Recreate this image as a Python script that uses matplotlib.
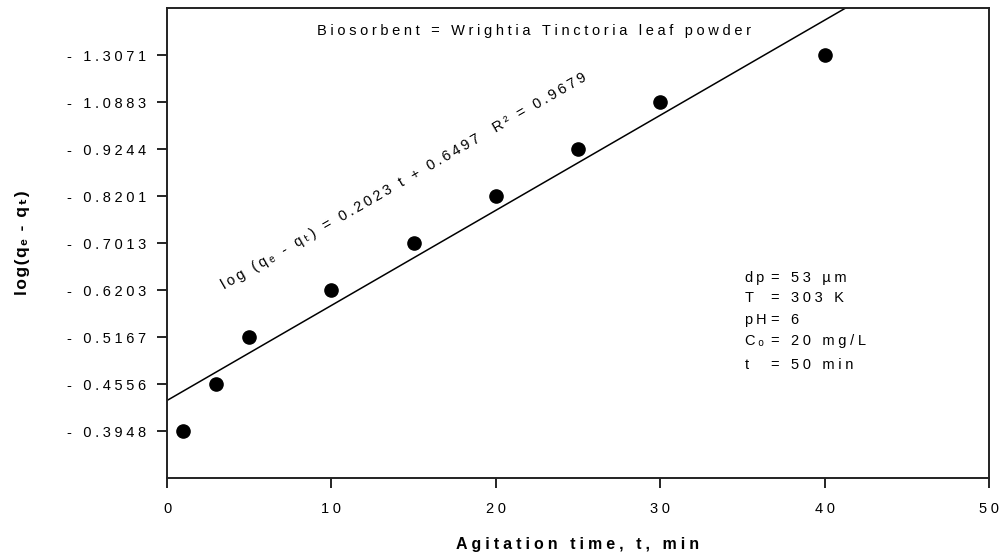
import numpy as np
import matplotlib
matplotlib.use("Agg")
import matplotlib.pyplot as plt

plt.rcParams['font.family'] = ['Liberation Sans', 'DejaVu Sans']

# agitation time, min
t = [1, 3, 5, 10, 15, 20, 25, 30, 40]
# y tick labels (log(qe - qt)), one per point, equally spaced on the axis
y_labels = ["- 0.3948", "- 0.4556", "- 0.5167", "- 0.6203", "- 0.7013",
            "- 0.8201", "- 0.9244", "- 1.0883", "- 1.3071"]
x_ticks = [0, 10, 20, 30, 40, 50]
y_pos = np.arange(len(y_labels))

slope, intercept = 0.2023, 0.6497

cond_names = ["dp", "T", "pH", "C\u2092", "t"]
cond_vals = ["= 53 \u00b5m", "= 303 K", "= 6", "= 20 mg/L", "= 50 min"]


def sp(s, gap='\u2005'):
    # the original uses wide letter spacing
    return gap.join(s)


fig = plt.figure(figsize=(10.02, 5.57), dpi=100)
ax = fig.add_axes([0.1667, 0.1418, 0.8204, 0.8438])

ax.plot(t, y_pos, 'o', color='black', markersize=9.5)
tl = np.array([0, 50])
ax.plot(tl, slope * tl + intercept, color='black', linewidth=1.1)

ax.set_xlim(0, 50)
ax.set_ylim(-1, 9)
ax.set_xticks(x_ticks)
ax.set_xticklabels([sp(str(v)) for v in x_ticks])
ax.set_yticks(y_pos)
ax.set_yticklabels([sp(s) for s in y_labels])
ax.tick_params(axis='both', direction='out', length=7, width=1.2,
               labelsize=10.5, pad=8)
ax.tick_params(axis='x', pad=10)
for s in ax.spines.values():
    s.set_linewidth(1.4)
    s.set_color('#222222')

ax.set_xlabel(sp("Agitation time, t, min"), fontsize=11.5, fontweight='bold')
ax.xaxis.set_label_coords(0.5, -0.125)
ax.set_ylabel(sp("log(q\u2091 - q\u209c)", '\u200a'), fontsize=12.5, fontweight='bold')
ax.yaxis.set_label_coords(-0.167, 0.5)

ax.text(22.3, 8.51, sp("Biosorbent = Wrightia Tinctoria leaf powder"),
        fontsize=10.5, ha='center', va='center')

eq = sp("log (q\u2091 - q\u209c) = 0.2023 t + 0.6497  R\u00b2 = 0.9679", '\u2009')
ax.text(3.6, 2.95, eq, fontsize=10.5, rotation=30, rotation_mode='anchor',
        ha='left', va='bottom')

cond_y = [3.26, 2.84, 2.37, 1.92, 1.41]
for name, val, yy in zip(cond_names, cond_vals, cond_y):
    ax.text(35.15, yy, sp(name, '\u2009'), fontsize=10.5, ha='left', va='center')
    ax.text(36.75, yy, sp(val), fontsize=10.5, ha='left', va='center')

fig.savefig("out.png", dpi=100)
